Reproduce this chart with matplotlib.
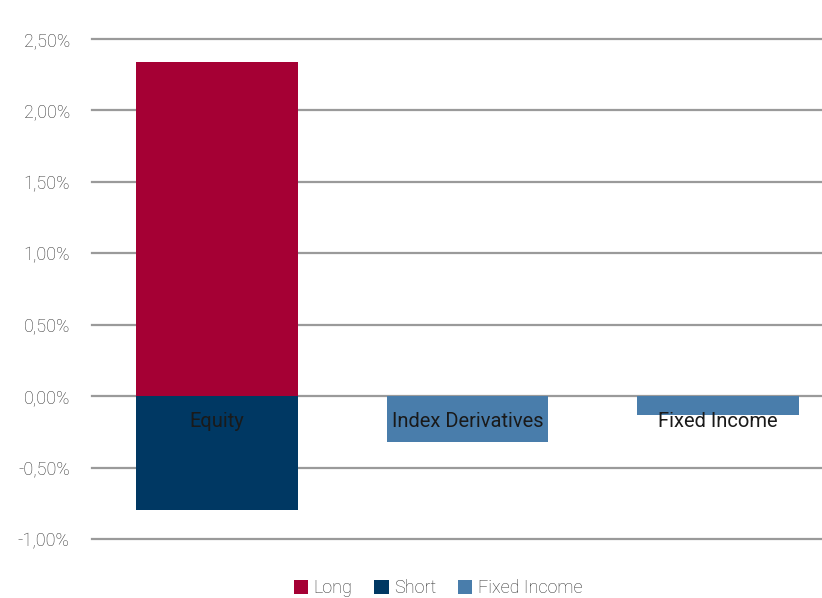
import matplotlib.pyplot as plt
from matplotlib.ticker import FuncFormatter

plt.rcParams["font.family"] = ["Roboto", "DejaVu Sans"]
plt.rcParams["font.weight"] = "light"

categories = ["Equity", "Index Derivatives", "Fixed Income"]
long_vals = [2.34, 0.0, 0.0]
short_vals = [-0.80, 0.0, 0.0]
fixed_vals = [0.0, -0.32, -0.13]

fig = plt.figure(figsize=(8.22, 5.98), dpi=100)
ax = fig.add_axes([92 / 822, (598 - 539) / 598, 751 / 822, (539 - 39) / 598])

x = range(len(categories))
w = 0.647
ax.bar(x, long_vals, w, color="#A50034", label="Long", zorder=2)
ax.bar(x, short_vals, w, color="#003863", label="Short", zorder=2)
ax.bar(x, fixed_vals, w, color="#497DAB", label="Fixed Income", zorder=2)

for i, c in enumerate(categories):
    ax.text(i, -0.18, c, ha="center", va="center", fontsize=14.5, color="#1a1a1a",
            fontweight="normal", zorder=3)

ax.set_xlim(-0.5, 2.5)
ax.set_ylim(-1.0, 2.5)
ax.set_yticks([-1.0, -0.5, 0, 0.5, 1.0, 1.5, 2.0, 2.5])
ax.yaxis.set_major_formatter(FuncFormatter(lambda v, p: f"{v:.2f}%".replace(".", ",")))
ax.set_xticks([])
ax.tick_params(axis="y", length=0, pad=16, labelsize=13, labelcolor="#333333")
ax.grid(axis="y", color="#9a9a9a", linewidth=1.6, zorder=1)
for gl in ax.get_ygridlines():
    gl.set_clip_on(False)
for s in ax.spines.values():
    s.set_visible(False)

fig.legend(loc="center", bbox_to_anchor=(438 / 822, 1 - 588 / 598), ncol=3, frameon=False,
           fontsize=13, handlelength=0.8, handleheight=0.8, handletextpad=0.3, columnspacing=1.2,
           labelcolor="#333333")

fig.savefig("out.png", dpi=100)
